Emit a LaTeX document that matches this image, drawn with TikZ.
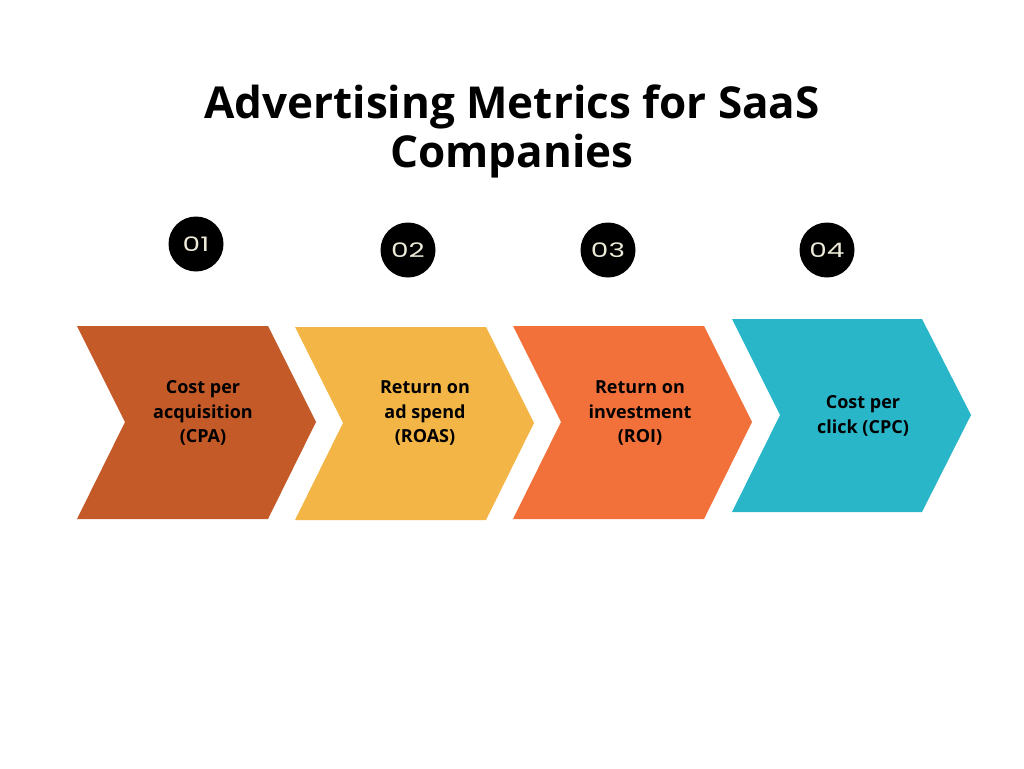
\documentclass[tikz,border=0pt]{standalone}
\usepackage{fontspec}
\setmainfont{Open Sans}
\newfontfamily\numfont[FakeStretch=1.4]{Poppins}
\definecolor{cA}{HTML}{C45A28}
\definecolor{cB}{HTML}{F3B546}
\definecolor{cC}{HTML}{F2703A}
\definecolor{cD}{HTML}{29B6C8}
\definecolor{cream}{HTML}{EDEAD8}
\tikzset{
  lab/.style={align=center, font=\bfseries\fontsize{18}{24.5}\selectfont, text=black, inner sep=0pt},
  num/.style={circle, fill=black, minimum size=55pt, inner sep=0pt, text=cream, font=\numfont\fontsize{20}{20}\selectfont},
}
\begin{document}
\begin{tikzpicture}[x=1pt,y=-1pt]
\useasboundingbox (0,0) rectangle (1024,768);
\node[font=\bfseries\fontsize{44}{49}\selectfont, align=center, inner sep=0pt] (title) at (512,131) {Advertising Metrics for SaaS\\Companies};
\fill[cA] (77,326) -- (268,326) -- (316,422) -- (268,519) -- (77,519) -- (125,422) -- cycle;
\fill[cB] (295,327) -- (486,327) -- (534,423) -- (486,520) -- (295,520) -- (343,423) -- cycle;
\fill[cC] (513,326) -- (704,326) -- (752,422) -- (704,519) -- (513,519) -- (561,422) -- cycle;
\fill[cD] (732,319) -- (922,319) -- (971,415) -- (922,512) -- (732,512) -- (780,415) -- cycle;
\node[lab] (t1) at (203,413) {Cost per\\acquisition\\(CPA)};
\node[lab] (t2) at (425,413) {Return on\\ad spend\\(ROAS)};
\node[lab] (t3) at (640,413) {Return on\\investment\\(ROI)};
\node[lab] (t4) at (863,416) {Cost per\\click (CPC)};
\node[num] (n1) at (196,244) {01};
\node[num] (n2) at (408,250) {02};
\node[num] (n3) at (608,250) {03};
\node[num] (n4) at (827,250) {04};
\end{tikzpicture}
\end{document}
